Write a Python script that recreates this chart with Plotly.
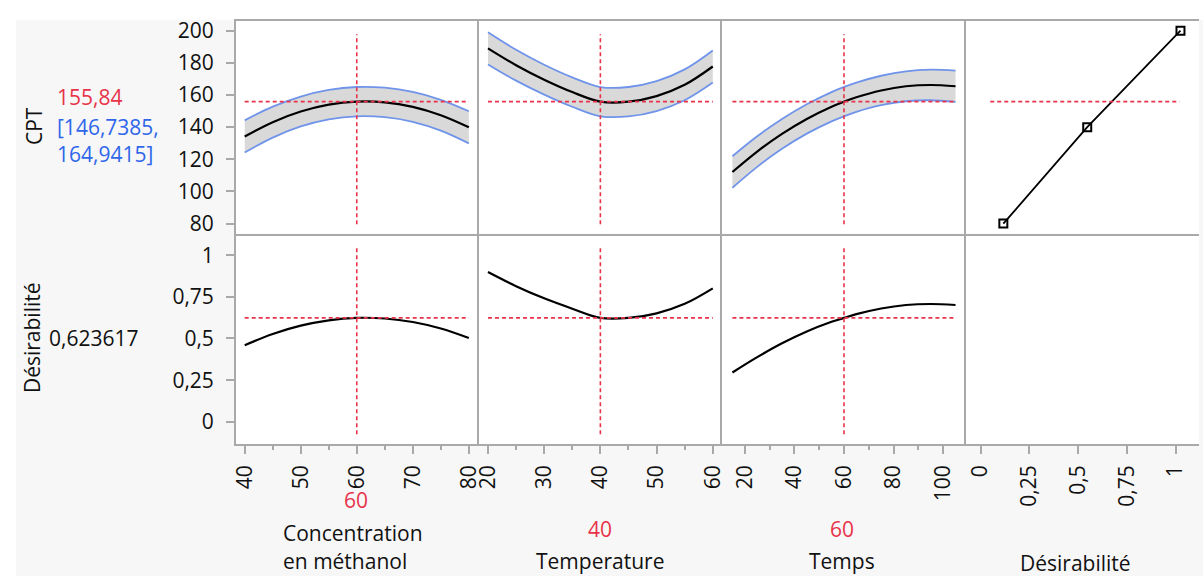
import plotly.graph_objects as go

W, H = 1203, 576

# ---------------- data ----------------
conc = [40, 45, 50, 55, 60, 65, 70, 75, 80]
cpt_conc = [134.2, 143.1, 149.7, 154.0, 155.84, 155.4, 152.6, 147.4, 139.9]
cpt_conc_lo = [124.2, 133.5, 140.4, 144.8, 146.74, 146.2, 143.3, 137.8, 129.9]
cpt_conc_hi = [144.2, 152.7, 159.0, 163.1, 164.94, 164.5, 161.9, 157.0, 149.9]
des_conc = [0.460, 0.527, 0.577, 0.609, 0.6236, 0.620, 0.599, 0.560, 0.503]

temp = [20, 25, 30, 35, 40, 45, 50, 55, 60]
cpt_temp = [189.0, 178.5, 169.5, 161.8, 155.84, 155.8, 159.3, 166.3, 177.7]
cpt_temp_lo = [179.0, 168.9, 160.2, 152.65, 146.74, 146.65, 150.0, 156.7, 167.7]
cpt_temp_hi = [199.0, 188.1, 178.8, 170.95, 164.94, 164.95, 168.6, 175.9, 187.7]
des_temp = [0.899, 0.814, 0.741, 0.679, 0.6236, 0.6233, 0.651, 0.708, 0.801]

temps = [15, 25, 35, 45, 55, 60, 65, 75, 85, 95, 105]
cpt_temps = [112.1, 124.8, 135.8, 145.1, 152.7, 155.84, 158.6, 162.8, 165.4, 166.2, 165.4]
cpt_temps_lo = [102.3, 115.3, 126.5, 135.95, 143.6, 146.74, 149.5, 153.65, 156.1, 156.7, 155.7]
cpt_temps_hi = [121.9, 134.3, 145.1, 154.25, 161.8, 164.94, 167.7, 171.95, 174.7, 175.7, 175.1]
des_temps = [0.296, 0.388, 0.471, 0.542, 0.600, 0.6236, 0.646, 0.680, 0.701, 0.707, 0.701]

des_fn_x = [0.117, 0.547, 1.025]
des_fn_cpt = [80, 140, 200]
des_fn_hline = [0.05, 1.02]

current_x = [60, 40, 60]
factor_names = ["Concentration\nen méthanol", "Temperature", "Temps", "Désirabilité"]
cpt_pred = 155.84
cpt_ci = [146.7385, 164.9415]
des_pred = 0.623617

x_ticks = [[40, 50, 60, 70, 80], [20, 30, 40, 50, 60], [20, 40, 60, 80, 100], [0, 0.25, 0.5, 0.75, 1]]
x_minor = [5, 5, 10, None]
y_ticks_cpt = [80, 100, 120, 140, 160, 180, 200]
y_ticks_des = [0, 0.25, 0.5, 0.75, 1]


def fr(v):
    return str(v).replace(".", ",")


# ---------------- geometry ----------------
cols_px = [(232, 477), (477, 722), (722, 968), (968, 1203)]
rows_px = [(16, 232), (232, 445)]
xranges = [[38.46, 81.82], [18.41, 61.64], [10.8, 109.2], [-0.0747, 1.12]]
yranges = [[73.68, 206.13], [-0.132, 1.1284]]


def xd(px):
    return px / W


def yd(py):
    return 1 - py / H


RED = "#e8334a"
BLUE = "#2f66ea"
BAND_LINE = "#7094ea"
GRID = "#a9a9a9"
TXT = "#111111"
FONT = "Open Sans"
FS = 21

fig = go.Figure()


def ax_id(r, c):
    return r * 4 + c + 1


def sfx(i):
    return "" if i == 1 else str(i)


layout = dict(
    width=W, height=H, margin=dict(l=0, r=0, t=0, b=0),
    paper_bgcolor="#f7f7f7", plot_bgcolor="white", showlegend=False,
    font=dict(family=FONT, size=FS, color=TXT),
)

for r in range(2):
    for c in range(4):
        i = ax_id(r, c)
        xa = dict(domain=[xd(cols_px[c][0]), xd(cols_px[c][1])], range=xranges[c],
                  anchor="y" + sfx(i), showline=True, linecolor=GRID, linewidth=2,
                  mirror=(r == 0), showgrid=False, zeroline=False, fixedrange=True)
        ya = dict(domain=[yd(rows_px[r][1]), yd(rows_px[r][0])], range=yranges[r],
                  anchor="x" + sfx(i), showline=True, linecolor=GRID, linewidth=2,
                  mirror=False, showgrid=False, zeroline=False, fixedrange=True)
        if r == 1:
            xa.update(tickmode="array", tickvals=x_ticks[c], ticktext=[fr(v) for v in x_ticks[c]],
                      ticks="outside", ticklen=8, tickwidth=2, tickcolor=GRID, tickangle=-90,
                      tickfont=dict(size=FS, color=TXT), ticklabelstandoff=3)
            if x_minor[c]:
                xa["minor"] = dict(ticks="outside", ticklen=4, tickwidth=2, tickcolor=GRID,
                                   dtick=x_minor[c], tick0=0)
        else:
            xa.update(showticklabels=False, ticks="")
        if c == 0:
            yt = y_ticks_cpt if r == 0 else y_ticks_des
            ya.update(tickmode="array", tickvals=yt, ticktext=[fr(v) for v in yt],
                      ticks="outside", ticklen=8, tickwidth=2, tickcolor=GRID,
                      tickfont=dict(size=FS, color=TXT), ticklabelstandoff=8)
        else:
            ya.update(showticklabels=False, ticks="")
        layout["xaxis" + sfx(i)] = xa
        layout["yaxis" + sfx(i)] = ya

# ---------------- traces ----------------
profiles = [
    (conc, cpt_conc, cpt_conc_lo, cpt_conc_hi, des_conc),
    (temp, cpt_temp, cpt_temp_lo, cpt_temp_hi, des_temp),
    (temps, cpt_temps, cpt_temps_lo, cpt_temps_hi, des_temps),
]
DASH = dict(color=RED, width=1.6, dash="4px,3px")
shapes = []
for c, (xs, y, lo, hi, d) in enumerate(profiles):
    i1 = ax_id(0, c)
    i2 = ax_id(1, c)
    xr1, yr1 = "x" + sfx(i1), "y" + sfx(i1)
    xr2, yr2 = "x" + sfx(i2), "y" + sfx(i2)
    fig.add_trace(go.Scatter(x=xs, y=lo, mode="lines", line=dict(color=BAND_LINE, width=1.8, shape="spline"),
                             xaxis=xr1, yaxis=yr1, hoverinfo="skip"))
    fig.add_trace(go.Scatter(x=xs, y=hi, mode="lines", line=dict(color=BAND_LINE, width=1.8, shape="spline"),
                             fill="tonexty", fillcolor="#d9d9d9", xaxis=xr1, yaxis=yr1, hoverinfo="skip"))
    fig.add_trace(go.Scatter(x=xs, y=y, mode="lines", line=dict(color="black", width=2.2, shape="spline"),
                             xaxis=xr1, yaxis=yr1))
    fig.add_trace(go.Scatter(x=xs, y=d, mode="lines", line=dict(color="black", width=2.2, shape="spline"),
                             xaxis=xr2, yaxis=yr2))
    for (xr, yr, yv) in [(xr1, yr1, cpt_pred), (xr2, yr2, des_pred)]:
        shapes.append(dict(type="line", xref=xr, yref=yr + " domain", x0=current_x[c], x1=current_x[c],
                           y0=0.045, y1=0.937, line=DASH))
        shapes.append(dict(type="line", xref=xr, yref=yr, x0=min(xs), x1=max(xs), y0=yv, y1=yv,
                           line=DASH))

# desirability function panel
i4 = ax_id(0, 3)
fig.add_trace(go.Scatter(x=des_fn_x, y=des_fn_cpt, mode="lines+markers",
                         line=dict(color="black", width=1.8),
                         marker=dict(symbol="square-open", size=8, color="black", line=dict(width=2)),
                         xaxis="x" + sfx(i4), yaxis="y" + sfx(i4)))
shapes.append(dict(type="line", xref="x" + sfx(i4), yref="y" + sfx(i4), x0=des_fn_hline[0], x1=des_fn_hline[1],
                   y0=cpt_pred, y1=cpt_pred, line=DASH))

# empty bottom-right cell (drawn so its frame shows)
i8 = ax_id(1, 3)
fig.add_trace(go.Scatter(x=[None], y=[None], mode="lines", xaxis="x" + sfx(i8), yaxis="y" + sfx(i8),
                         hoverinfo="skip"))

# white frame outside the gray panel background
shapes.append(dict(type="rect", xref="paper", yref="paper", x0=-0.01, x1=xd(10), y0=-0.01, y1=1.01,
                   fillcolor="white", line=dict(width=0), layer="below"))
shapes.append(dict(type="rect", xref="paper", yref="paper", x0=-0.01, x1=1.01, y0=yd(15), y1=1.01,
                   fillcolor="white", line=dict(width=0), layer="below"))

# ---------------- annotations ----------------
ann = []


def A(text, px, py, color=TXT, xanchor="center", angle=0, size=FS):
    ann.append(dict(text=text, x=xd(px), y=yd(py), xref="paper", yref="paper", showarrow=False,
                    xanchor=xanchor, yanchor="middle", textangle=angle,
                    font=dict(family=FONT, size=size, color=color)))


A("CPT", 29, 123, angle=-90)
A(fr(cpt_pred), 49, 93, color=RED, xanchor="left")
A("[" + fr(cpt_ci[0]) + ",", 49, 124, color=BLUE, xanchor="left")
A(fr(cpt_ci[1]) + "]", 49, 151, color=BLUE, xanchor="left")
A("Désirabilité", 27, 337, angle=-90)
A(fr(des_pred), 41, 338, xanchor="left")

A(fr(current_x[0]), 353, 502, color=RED)
l1, l2 = factor_names[0].split("\n")
A(l1, 277, 535, xanchor="left")
A(l2, 277, 564, xanchor="left")
A(fr(current_x[1]), 598.5, 531, color=RED)
A(factor_names[1], 598.5, 564)
A(fr(current_x[2]), 843, 531, color=RED)
A(factor_names[2], 843, 564)
A(factor_names[3], 1078, 566)

layout["shapes"] = shapes
layout["annotations"] = ann
fig.update_layout(**layout)

fig.write_html("out.html", include_plotlyjs=True, config={"displayModeBar": False},
               post_script="document.body.style.margin='0';document.body.style.overflow='hidden';")
